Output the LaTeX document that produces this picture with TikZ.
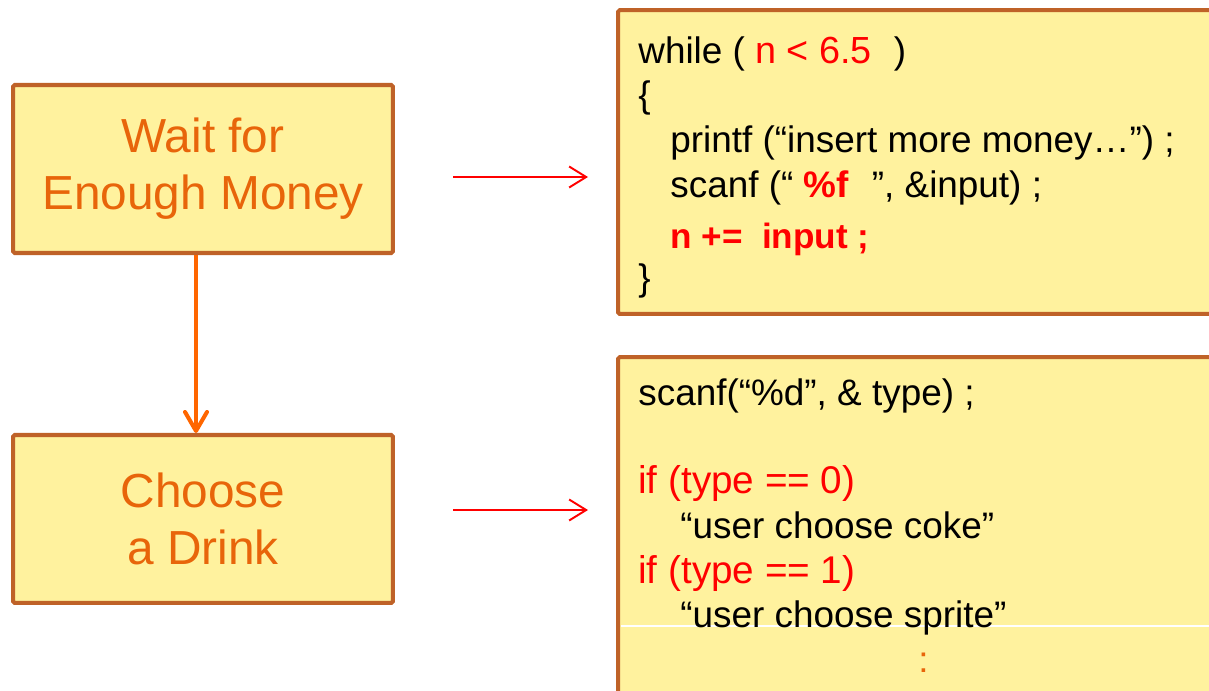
\documentclass[tikz,border=0pt]{standalone}
\usepackage{fontspec}
\setmainfont{Liberation Sans}
\usetikzlibrary{positioning,arrows.meta}
\definecolor{boxfill}{RGB}{255,242,158}
\definecolor{boxline}{RGB}{191,98,40}
\definecolor{steptext}{RGB}{232,101,10}
\definecolor{flowline}{RGB}{255,102,0}
\tikzset{
  stepbox/.style={draw=boxline, fill=boxfill, line width=2.3pt, rounded corners=1pt,
    minimum width=7.6cm, minimum height=3.36cm, align=center, text=steptext,
    font=\fontsize{27.2}{32.4}\selectfont},
  codebox/.style={draw=boxline, fill=boxfill, line width=2.3pt, rounded corners=1pt,
    minimum width=12.24cm},
  codeline/.style={anchor=base west, inner sep=0pt, font=\fontsize{21}{24}\selectfont},
  hot/.style={font=\fontsize{22}{26}\selectfont, text=red},
  flowarrow/.style={draw=flowline, line width=2.3pt, -{Straight Barb[length=3.8mm,width=4.4mm,round]}},
  linkarrow/.style={draw=red, line width=1.1pt, -{Straight Barb[length=3.4mm,width=4.2mm]}},
}
\begin{document}
\begin{tikzpicture}[x=0.02cm, y=-0.02cm]
		\useasboundingbox (0,0) rectangle (1209,690);
		\clip (0,0) rectangle (1209,690);
		% Flow
		\node[stepbox] (Wait) at (203,169) {Wait for\\Enough Money} ;
		\node[stepbox, below=3.56cm of Wait] (Choose) {Choose\\a Drink} ;
		\draw[flowarrow] ([xshift=-0.14cm]Wait.south) -- ([xshift=-0.14cm]Choose.north) ;
		% Code boxes
		\node[codebox, minimum height=6.08cm] (Loop) at (924,162) {} ;
		\node[codebox, minimum height=7.32cm] (Pick) at (924,540) {} ;
		\draw[white, line width=0.6pt] (621,626) -- (1209,626) ;
		% while loop
		\node[codeline] (Lwhile) at (638,63) {while ( \textcolor{red}{\fontsize{21.5}{24}\selectfont n < 6.5}\hspace{0.6em})} ;
		\node[codeline] (Lopen) at (638,107) {\{} ;
		\node[codeline] (Lprint) at (670,152) {printf (“insert more money…”) ;} ;
		\node[codeline] (Lscan) at (670,197) {scanf (“ \textcolor{red}{\bfseries\fontsize{21}{24}\selectfont\%f}\hspace{0.35em} ”, \&input) ;} ;
		\node[codeline, hot, font=\bfseries\fontsize{20}{24}\selectfont] (Ladd) at (670,248) {n +=\ \ input ;} ;
		\node[codeline] (Lclose) at (638,290) {\}} ;
		% choose drink
		\node[codeline] (Lread) at (638,405) {scanf(“\%d”, \& type) ;} ;
		\node[codeline, hot] (Lzero) at (638,493) {if (type == 0)} ;
		\node[codeline] (Lcoke) at (680,538) {“user choose coke”} ;
		\node[codeline, hot] (Lone) at (638,583) {if (type == 1)} ;
		\node[codeline] (Lsprite) at (680,627) {“user choose sprite”} ;
		\node[codeline, text=steptext] (Lmore) at (918,672) {:} ;
		% links
		\coordinate (WaitOut) at (453,177) ;
		\coordinate (LoopIn) at (588,177) ;
		\coordinate (ChooseOut) at (453,510) ;
		\coordinate (PickIn) at (588,510) ;
		\draw[linkarrow] (WaitOut) -- (LoopIn) ;
		\draw[linkarrow] (ChooseOut) -- (PickIn) ;
	\end{tikzpicture}
\end{document}
